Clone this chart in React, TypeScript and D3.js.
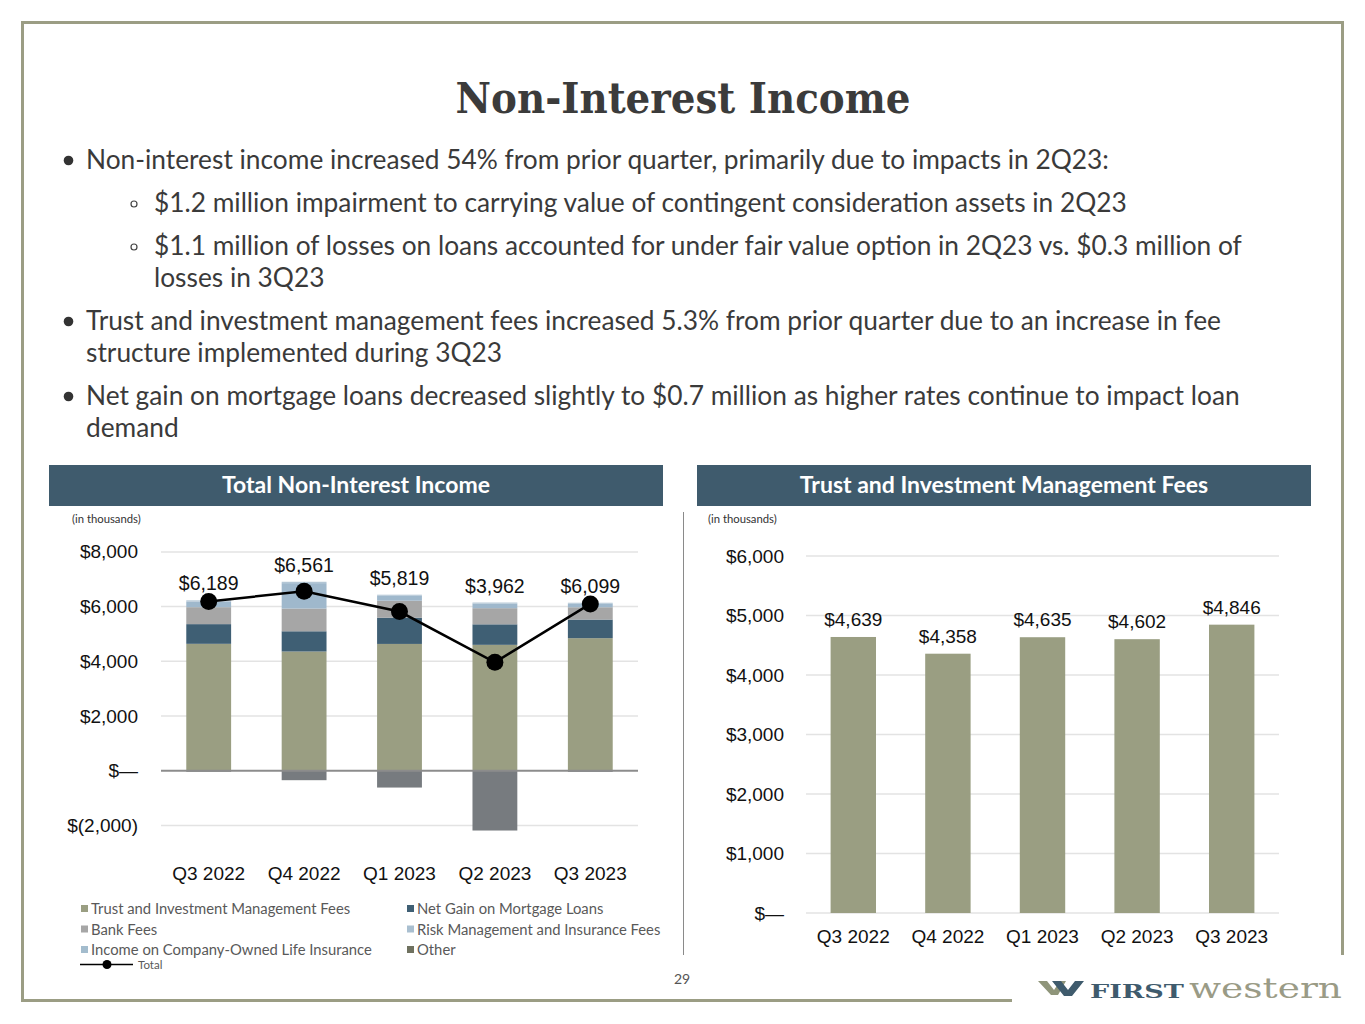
import React from "react";
import * as d3 from "d3";

const quarters = ["Q3 2022", "Q4 2022", "Q1 2023", "Q2 2023", "Q3 2023"];
const trustFees = [4639, 4358, 4635, 4602, 4846];
const netGainMortgage = [720, 740, 960, 750, 680];
const bankFees = [620, 830, 620, 590, 450];
const riskMgmtFees = [200, 930, 180, 170, 140];
const coliIncome = [50, 50, 40, 37, 25];
const otherIncome = [-40, -347, -616, -2187, -42];
const totalIncome = [6189, 6561, 5819, 3962, 6099];

const leftTicks = [-2000, 0, 2000, 4000, 6000, 8000];
const rightTicks = [0, 1000, 2000, 3000, 4000, 5000, 6000];

const seriesNames = [
  "Trust and Investment Management Fees",
  "Net Gain on Mortgage Loans",
  "Bank Fees",
  "Risk Management and Insurance Fees",
  "Income on Company-Owned Life Insurance",
  "Other",
];
const seriesKeys = ["trust", "netGain", "bank", "risk", "coli", "other"];
const seriesColors = ["#9a9e82", "#3f5f74", "#a6a6a6", "#9fb8cc", "#b3c6d5", "#777b7f"];
const legendColors = ["#9a9e82", "#3f5f74", "#a6a6a6", "#a9bfd0", "#a3bccd", "#6f715f"];

const bullets = [
  { kind: "main", y: 160, lines: ["Non-interest income increased 54% from prior quarter, primarily due to impacts in 2Q23:"] },
  { kind: "sub", y: 203, lines: ["$1.2 million impairment to carrying value of contingent consideration assets in 2Q23"] },
  { kind: "sub", y: 246, lines: ["$1.1 million of losses on loans accounted for under fair value option in 2Q23 vs. $0.3 million of", "losses in 3Q23"] },
  { kind: "main", y: 321, lines: ["Trust and investment management fees increased 5.3% from prior quarter due to an increase in fee", "structure implemented during 3Q23"] },
  { kind: "main", y: 396, lines: ["Net gain on mortgage loans decreased slightly to $0.7 million as higher rates continue to impact loan", "demand"] },
];

const fmtMoney = (v: number) =>
  v === 0 ? "$\u2014" : v < 0 ? `$(${d3.format(",")(-v)})` : `$${d3.format(",")(v)}`;

const ARIAL = "'Liberation Sans', Arial, sans-serif";
const LATO = "Lato, 'Noto Sans', sans-serif";

export default function App() {
  const rows = quarters.map((q, i) => ({
    q,
    trust: trustFees[i],
    netGain: netGainMortgage[i],
    bank: bankFees[i],
    risk: riskMgmtFees[i],
    coli: coliIncome[i],
    other: otherIncome[i],
  }));
  const stacked = d3
    .stack<any>()
    .keys(seriesKeys)
    .offset(d3.stackOffsetDiverging)(rows);

  const xL = d3.scaleBand<string>().domain(quarters).range([161, 638]).paddingInner(0.53).paddingOuter(0.265);
  const yL = d3.scaleLinear().domain([-2000, 8000]).range([825.4, 551.9]);
  const xR = d3.scaleBand<string>().domain(quarters).range([806, 1279]).paddingInner(0.52).paddingOuter(0.26);
  const yR = d3.scaleLinear().domain([0, 6000]).range([913, 556]);

  const posTop = rows.map((r) => r.trust + r.netGain + r.bank + r.risk + r.coli);

  const linePath = d3
    .line<number>()
    .x((_, i) => (xL(quarters[i]) as number) + xL.bandwidth() / 2)
    .y((d) => yL(d))(totalIncome) as string;

  const frame = "#9b9d84";

  return (
    <svg
      width={1365}
      height={1024}
      style={{ position: "absolute", left: 0, top: 0, background: "#fff" }}
    >
      <rect x={0} y={0} width={1365} height={1024} fill="#fff" />
      {/* frame */}
      <line x1={21} y1={22.5} x2={1344} y2={22.5} stroke={frame} strokeWidth={3} />
      <line x1={22.5} y1={21} x2={22.5} y2={1001.5} stroke={frame} strokeWidth={3} />
      <line x1={1342.5} y1={21} x2={1342.5} y2={955} stroke={frame} strokeWidth={3} />
      <line x1={21} y1={1000.5} x2={1012} y2={1000.5} stroke={frame} strokeWidth={3} />

      {/* title */}
      <text
        x={683}
        y={113}
        textAnchor="middle"
        fontFamily="'DejaVu Serif', serif"
        fontWeight="bold"
        fontSize={43}
        fill="#3b3b3b"
        textLength={455}
        lengthAdjust="spacingAndGlyphs"
      >
        Non-Interest Income
      </text>

      {/* bullets */}
      {bullets.map((b, bi) => (
        <g key={bi}>
          {b.kind === "main" ? (
            <circle cx={68.5} cy={b.y + 0.5} r={4.8} fill="#333" />
          ) : (
            <circle cx={134} cy={b.y + 1} r={3} fill="none" stroke="#444" strokeWidth={1.2} />
          )}
          {b.lines.map((ln, li) => (
            <text
              key={li}
              x={b.kind === "main" ? 86 : 154}
              y={b.y + 9 + li * 32}
              fontFamily={LATO}
              fontSize={26.3}
              fill="#3a3a3a"
            >
              {ln}
            </text>
          ))}
        </g>
      ))}

      {/* headers */}
      <rect x={49} y={465} width={614} height={41} fill="#3f5b6d" />
      <text x={356} y={492.5} textAnchor="middle" fontFamily={LATO} fontWeight="bold" fontSize={23} fill="#fff">
        Total Non-Interest Income
      </text>
      <rect x={697} y={465} width={614} height={41} fill="#3f5b6d" />
      <text x={1004} y={492.5} textAnchor="middle" fontFamily={LATO} fontWeight="bold" fontSize={23} fill="#fff">
        Trust and Investment Management Fees
      </text>
      <text x={72} y={523} fontFamily={LATO} fontSize={11.3} fill="#333">(in thousands)</text>
      <text x={708} y={523} fontFamily={LATO} fontSize={11.3} fill="#333">(in thousands)</text>

      {/* divider */}
      <line x1={683.5} y1={512} x2={683.5} y2={955} stroke="#8a8a8a" strokeWidth={1} />

      {/* LEFT CHART */}
      <g>
        {leftTicks.map((t) => (
          <g key={t}>
            {t !== 0 && (
              <line x1={161} x2={638} y1={yL(t)} y2={yL(t)} stroke="#e3e3e3" strokeWidth={1.5} />
            )}
            <text
              x={138}
              y={yL(t) + 6.5}
              textAnchor="end"
              fontFamily={ARIAL}
              fontSize={19}
              fill="#111"
            >
              {fmtMoney(t)}
            </text>
          </g>
        ))}
        {stacked.map((s, si) => (
          <g key={s.key} fill={seriesColors[si]}>
            {s.map((d, i) => (
              <rect
                key={i}
                x={xL(quarters[i])}
                width={xL.bandwidth()}
                y={yL(Math.max(d[0], d[1]))}
                height={Math.abs(yL(d[0]) - yL(d[1]))}
              />
            ))}
          </g>
        ))}
        <line x1={161} x2={638} y1={yL(0)} y2={yL(0)} stroke="#8c8c8c" strokeWidth={2} />
        <path d={linePath} fill="none" stroke="#000" strokeWidth={2.5} />
        {totalIncome.map((v, i) => (
          <circle
            key={i}
            cx={(xL(quarters[i]) as number) + xL.bandwidth() / 2}
            cy={yL(v)}
            r={8.5}
            fill="#000"
          />
        ))}
        {totalIncome.map((v, i) => (
          <text
            key={i}
            x={(xL(quarters[i]) as number) + xL.bandwidth() / 2}
            y={yL(posTop[i]) - 10}
            textAnchor="middle"
            fontFamily={ARIAL}
            fontSize={19.5}
            fill="#111"
          >
            {fmtMoney(v)}
          </text>
        ))}
        {quarters.map((q) => (
          <text
            key={q}
            x={(xL(q) as number) + xL.bandwidth() / 2}
            y={880}
            textAnchor="middle"
            fontFamily={ARIAL}
            fontSize={19}
            fill="#111"
          >
            {q}
          </text>
        ))}
        {/* legend */}
        {seriesNames.map((n, i) => {
          const col = i % 2;
          const row = Math.floor(i / 2);
          const sx = col === 0 ? 81 : 407;
          const sy = 909 + row * 20.5;
          return (
            <g key={n}>
              <rect x={sx} y={sy - 4} width={7} height={7} fill={legendColors[i]} />
              <text x={sx + 10} y={sy + 5} fontFamily={LATO} fontSize={14.8} fill="#595959">
                {n}
              </text>
            </g>
          );
        })}
        <line x1={80} x2={133} y1={964.5} y2={964.5} stroke="#000" strokeWidth={1.5} />
        <circle cx={107} cy={964.5} r={4.5} fill="#000" />
        <text x={138} y={968.5} fontFamily={LATO} fontSize={11.5} fill="#595959">Total</text>
      </g>

      {/* RIGHT CHART */}
      <g>
        {rightTicks.map((t) => (
          <g key={t}>
            <line x1={806} x2={1279} y1={yR(t)} y2={yR(t)} stroke="#e3e3e3" strokeWidth={1.5} />
            <text x={784} y={yR(t) + 6.5} textAnchor="end" fontFamily={ARIAL} fontSize={19} fill="#111">
              {fmtMoney(t)}
            </text>
          </g>
        ))}
        {trustFees.map((v, i) => (
          <rect
            key={i}
            x={xR(quarters[i])}
            width={xR.bandwidth()}
            y={yR(v)}
            height={yR(0) - yR(v)}
            fill="#9a9e82"
          />
        ))}
        {trustFees.map((v, i) => (
          <text
            key={i}
            x={(xR(quarters[i]) as number) + xR.bandwidth() / 2}
            y={yR(v) - 11}
            textAnchor="middle"
            fontFamily={ARIAL}
            fontSize={19}
            fill="#111"
          >
            {fmtMoney(v)}
          </text>
        ))}
        {quarters.map((q) => (
          <text
            key={q}
            x={(xR(q) as number) + xR.bandwidth() / 2}
            y={943}
            textAnchor="middle"
            fontFamily={ARIAL}
            fontSize={19}
            fill="#111"
          >
            {q}
          </text>
        ))}
      </g>

      {/* page number */}
      <text x={682} y={984} textAnchor="middle" fontFamily={LATO} fontSize={14} fill="#555">29</text>

      {/* logo */}
      <g>
        <path d="M1038,981 L1047,981 L1054,990 L1060,981 L1066,981 L1058,995 L1051,995 Z" fill="#8f957a" />
        <path d="M1052,981 L1061,981 L1068,990 L1075,981 L1084,981 L1072,996 L1064,996 Z" fill="#3f5b6d" />
        <text
          x={1090}
          y={998}
          fontFamily="'DejaVu Serif', serif"
          fontWeight="bold"
          fontSize={19}
          fill="#3f5b6d"
          textLength={94}
          lengthAdjust="spacingAndGlyphs"
        >
          FIRST
        </text>
        <text
          x={1189}
          y={998}
          fontFamily="'DejaVu Serif', serif"
          fontSize={28}
          fill="#9a9b86"
          textLength={153}
          lengthAdjust="spacingAndGlyphs"
        >
          western
        </text>
      </g>
    </svg>
  );
}
